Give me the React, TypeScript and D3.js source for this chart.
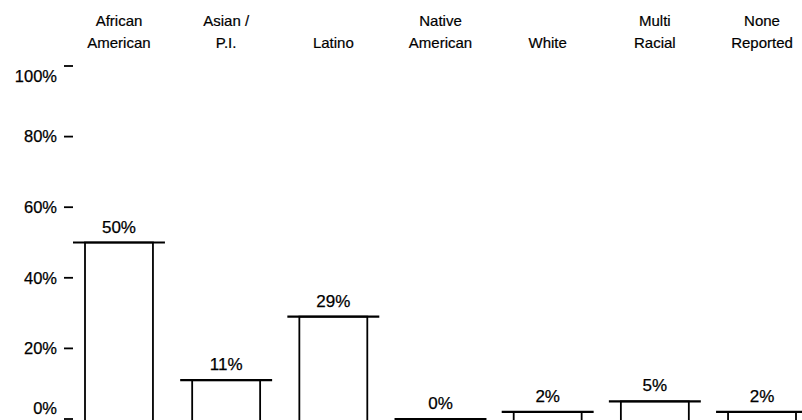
import React from "react";
import * as d3 from "d3";

const categories = ["African American", "Asian / P.I.", "Latino", "Native American", "White", "Multi Racial", "None Reported"];
const labelLines = [["African", "American"], ["Asian /", "P.I."], ["Latino"], ["Native", "American"], ["White"], ["Multi", "Racial"], ["None", "Reported"]];
const values = [50, 11, 29, 0, 2, 5, 2];
const yTicks = [0, 20, 40, 60, 80, 100];

const W = 802;
const H = 420;

export default function App() {
  const x = d3.scaleBand<string>().domain(categories).range([85, 796]).paddingInner(0.366).paddingOuter(0);
  const y = d3.scaleLinear().domain([0, 100]).range([419, 66]);
  const font = "'Liberation Sans', Arial, sans-serif";
  const ext = 12;
  return (
    <svg width={W} height={H} style={{ position: "absolute", left: 0, top: 0, background: "#fff" }} fontFamily={font}>
      <rect width={W} height={H} fill="#fff" />
      {yTicks.map((t) => {
        const yy = y(t);
        const ly = t === 100 ? yy + 10 : t === 0 ? yy - 11 : yy;
        return (
          <g key={t}>
            <line x1={64} x2={73} y1={yy} y2={yy} stroke="#000" strokeWidth={1.8} />
            <text x={57} y={ly} dy="0.35em" textAnchor="end" fontSize={16.5} fill="#000" stroke="#000" strokeWidth={0.25}>{t}%</text>
          </g>
        );
      })}
      {categories.map((c, i) => {
        const x0 = x(c)!;
        const bw = x.bandwidth();
        const cx = x0 + bw / 2;
        const top = y(values[i]);
        const lines = labelLines[i];
        return (
          <g key={c}>
            <rect x={x0} y={top} width={bw} height={y(0) - top + 2} fill="#fff" stroke="#000" strokeWidth={1.8} />
            <line x1={x0 - ext} x2={x0 + bw + ext} y1={top} y2={top} stroke="#000" strokeWidth={2.2} />
            <text x={cx} y={top - 10} textAnchor="middle" fontSize={17} fill="#000" stroke="#000" strokeWidth={0.25}>{values[i]}%</text>
            {lines.map((l, j) => (
              <text key={j} x={cx} y={lines.length === 1 ? 48 : 26 + j * 22} textAnchor="middle" fontSize={15} fill="#000" stroke="#000" strokeWidth={0.2}>{l}</text>
            ))}
          </g>
        );
      })}
    </svg>
  );
}
